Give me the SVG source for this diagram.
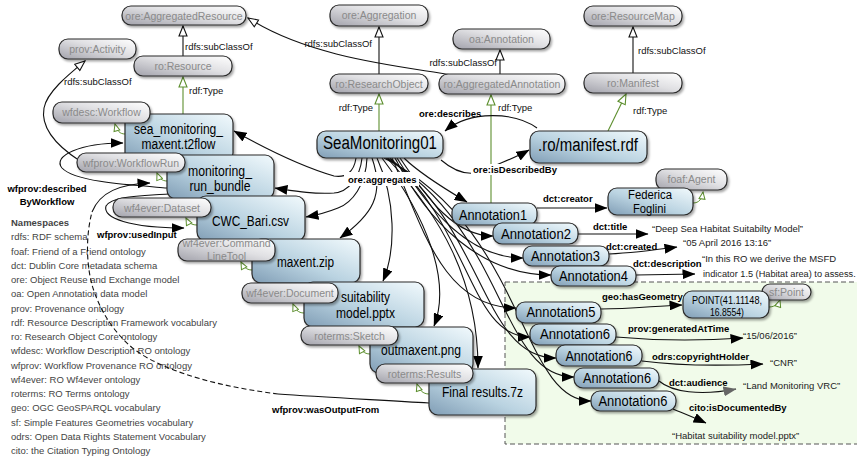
<svg xmlns="http://www.w3.org/2000/svg" width="857" height="457" viewBox="0 0 857 457">
<defs>
<linearGradient id="gBlue" x1="0" y1="1" x2="1" y2="0">
<stop offset="0" stop-color="#809db5"/>
<stop offset="0.45" stop-color="#bad3e1"/>
<stop offset="1" stop-color="#f2fafd"/>
</linearGradient>
<linearGradient id="gGray" x1="0" y1="1" x2="1" y2="0">
<stop offset="0" stop-color="#a2a2ab"/>
<stop offset="0.55" stop-color="#e0e0e3"/>
<stop offset="1" stop-color="#ffffff"/>
</linearGradient>
<filter id="sh" x="-10%" y="-20%" width="130%" height="170%">
<feDropShadow dx="1.5" dy="2" stdDeviation="1.2" flood-color="#000" flood-opacity="0.35"/>
</filter>
<marker id="fb" viewBox="0 0 13 10" markerWidth="13" markerHeight="10" refX="12.5" refY="5" orient="auto" markerUnits="userSpaceOnUse"><path d="M0,0 L13,5 L0,10 Z" fill="#000"/></marker>
<marker id="fg" viewBox="0 0 13 10" markerWidth="13" markerHeight="10" refX="12.5" refY="5" orient="auto" markerUnits="userSpaceOnUse"><path d="M0,0 L13,5 L0,10 Z" fill="#666"/></marker>
<marker id="hb" viewBox="0 0 12 10" markerWidth="12" markerHeight="10" refX="11" refY="5" orient="auto" markerUnits="userSpaceOnUse"><path d="M1,1 L11,5 L1,9 Z" fill="#fff" stroke="#111" stroke-width="1.1"/></marker>
<marker id="hg" viewBox="0 0 12 10" markerWidth="12" markerHeight="10" refX="11" refY="5" orient="auto" markerUnits="userSpaceOnUse"><path d="M1,1 L11,5 L1,9 Z" fill="#fff" stroke="#5d8f2e" stroke-width="1.1"/></marker>
<marker id="hs" viewBox="0 0 9 8" markerWidth="9" markerHeight="8" refX="8" refY="4" orient="auto" markerUnits="userSpaceOnUse"><path d="M1,1 L8,4 L1,7 Z" fill="#fff" stroke="#5d8f2e" stroke-width="1"/></marker>
</defs>
<style>
.e{fill:none;stroke:#111;stroke-width:1.1}
.fa{marker-end:url(#fb)}
.ha{marker-end:url(#hb)}
.g{fill:none;stroke:#5d8f2e;stroke-width:1.1;marker-end:url(#hg)}
.gs{fill:none;stroke:#5d8f2e;stroke-width:1;marker-end:url(#hs)}
.c rect{fill:url(#gGray);stroke:#2a2a2a;stroke-width:1.2;filter:url(#sh)}
.c text{font-family:"Liberation Sans",Arial,sans-serif;font-size:10.5px;fill:#8a8a8a;text-anchor:middle}
.b rect{fill:url(#gBlue);stroke:#2a2a2a;stroke-width:1.2;filter:url(#sh)}
.b text{font-family:"Liberation Sans",Arial,sans-serif;font-size:14px;fill:#000;text-anchor:middle}
.l{font-family:"Liberation Sans",Arial,sans-serif;font-size:9.5px;fill:#111}
.lb{font-family:"Liberation Sans",Arial,sans-serif;font-size:9.5px;font-weight:bold;fill:#000}
.lit{font-family:"Liberation Sans",Arial,sans-serif;font-size:9.5px;fill:#222}
.leg{font-family:"Liberation Sans",Arial,sans-serif;font-size:9.5px;fill:#444}
</style>
<rect x="0" y="0" width="857" height="457" fill="#fff"/>
<rect id="annotation-box" x="505" y="282" width="400" height="162" fill="#f1fbea" stroke="#555" stroke-width="1" stroke-dasharray="5,3"/>

<g id="legend">
<text class="leg" x="11" y="226" font-weight="bold" fill="#555">Namespaces</text>
<text class="leg" x="11" y="240.25">rdfs: RDF schema</text>
<text class="leg" x="11" y="254.5">foaf: Friend of a Friend ontology</text>
<text class="leg" x="11" y="268.75">dct: Dublin Core metadata schema</text>
<text class="leg" x="11" y="283">ore: Object Reuse and Exchange model</text>
<text class="leg" x="11" y="297.25">oa: Open Annotation data model</text>
<text class="leg" x="11" y="311.5">prov: Provenance ontology</text>
<text class="leg" x="11" y="325.75">rdf: Resource Description Framework vocabulary</text>
<text class="leg" x="11" y="340">ro: Research Object Core ontology</text>
<text class="leg" x="11" y="354.25">wfdesc: Workflow Description RO ontology</text>
<text class="leg" x="11" y="368.5">wfprov: Workflow Provenance RO ontology</text>
<text class="leg" x="11" y="382.75">wf4ever: RO Wf4ever ontology</text>
<text class="leg" x="11" y="397">roterms: RO Terms ontology</text>
<text class="leg" x="11" y="411.25">geo: OGC GeoSPARQL vocabulary</text>
<text class="leg" x="11" y="425.5">sf: Simple Features Geometries vocabulary</text>
<text class="leg" x="11" y="439.75">odrs: Open Data Rights Statement Vocabulary</text>
<text class="leg" x="11" y="454">cito: the Citation Typing Ontology</text>
</g>

<g id="connectors">
<path class="e ha" d="M183,56 L183,26"/>
<path class="e ha" d="M80,161 C60,148 40,130 44,108 C47,92 68,75 85,61"/>
<path class="e ha" d="M379,74 L379,27"/>
<path class="e ha" d="M500,74 L500,50"/>
<path class="e ha" d="M633,73 L633,27"/>
<path class="e ha" d="M452,75 C400,66 310,58 248,18"/>
<path class="g" d="M183,114 L183,77"/>
<path class="g" d="M379,131 L379,94"/>
<path class="g" d="M491,203 L491,95"/>
<path class="g" d="M608,131 L626,94"/>
<path class="gs" d="M125,134 C120,134 117,131 115,124"/>
<path class="gs" d="M167,181 C162,181 159,178 157,173"/>
<path class="gs" d="M197,225 C191,225 188,222 186,218"/>
<path class="gs" d="M252,270 C246,270 243,266 241,262"/>
<path class="gs" d="M304,313 C298,313 295,309 293,304"/>
<path class="gs" d="M370,354 C364,354 361,350 359,346"/>
<path class="gs" d="M429,394 C423,394 419,390 417,384"/>
<path class="gs" d="M693,203 C699,203 702,199 703,192"/>
<path class="gs" d="M769,307 C775,307 779,303 780,300"/>
<path class="e fa" d="M537,128 C515,112 470,110 445,131"/>
<path class="e fa" d="M441,160 C455,172 470,177 485,170 C500,163 515,158 529,150"/>
<path class="e fa" d="M167,188 C130,185 75,182 62,168 C52,156 80,143 123,143"/>
<path class="e fa" d="M168,194 C140,196 112,196 106,206 C102,218 130,228 184,228"/>
<path class="e" d="M429,403 C380,400 320,397 278,394"/>
<path class="e" stroke-dasharray="5,3" d="M278,394 C230,388 170,375 135,350 C110,330 98,305 92,285 C86,262 86,235 92,212"/>
<path class="e fa" d="M92,212 C100,192 120,184 150,183"/>
<path class="e fa" d="M356,158 C354,172 346,178 334,176 C300,166 268,150 234,131"/>
<path class="e fa" d="M362,158 C360,178 348,192 334,193 C310,194 295,191 275,188"/>
<path class="e fa" d="M367,158 C366,185 352,203 338,208 C328,212 318,215 306,217"/>
<path class="e fa" d="M372,158 C385,195 372,215 340,238"/>
<path class="e fa" d="M377,158 C396,200 396,250 383,281"/>
<path class="e fa" d="M382,158 C425,215 452,280 434,326"/>
<path class="e fa" d="M387,158 C440,215 478,280 478,368"/>
<path class="e fa" d="M404,158 C418,172 440,186 467,202"/>
<path class="e fa" d="M400,158 C428,200 455,236 493,236"/>
<path class="e fa" d="M397,158 C430,212 470,258 523,258"/>
<path class="e fa" d="M395,158 C428,222 480,275 551,275"/>
<path class="e fa" d="M392,158 C422,225 442,308 516,308"/>
<path class="e fa" d="M390,158 C470,228 470,337 530,337"/>
<path class="e fa" d="M388,158 C485,228 482,358 556,358"/>
<path class="e fa" d="M386,158 C505,228 500,377 574,377"/>
<path class="e fa" d="M384,158 C525,228 520,401 591,401"/>
<path class="e fa" d="M537,208 L607,208"/>
<path class="e fa" d="M578,234 L648,234"/>
<path class="e fa" d="M609,254 C630,253 655,250 677,247"/>
<path class="e fa" d="M636,275 L695,274"/>
<path class="e fa" d="M601,309 C630,309 655,306 682,305"/>
<path class="e fa" d="M616,337 C660,341 700,341 743,338"/>
<path class="e fa" d="M642,361 C680,366 720,366 763,364"/>
<path class="e" marker-end="url(#fg)" d="M659,381 C672,392 700,396 736,389"/>
<path class="e fa" d="M673,409 C685,414 695,418 706,423"/>
<text class="l" x="185" y="50">rdfs:subClassOf</text>
<text class="l" x="64" y="85">rdfs:subClassOf</text>
<text class="l" x="189" y="94">rdf:Type</text>
<text class="l" x="372" y="47" text-anchor="end">rdfs:subClassOf</text>
<text class="l" x="497" y="66" text-anchor="end">rdfs:subClassOf</text>
<text class="l" x="373" y="111" text-anchor="end">rdf:Type</text>
<text class="l" x="498" y="111">rdf:Type</text>
<text class="l" x="638" y="54">rdfs:subClassOf</text>
<text class="l" x="633" y="114">rdf:Type</text>
<text class="lb" x="419" y="117">ore:describes</text>
<rect x="471" y="164" width="88" height="11" fill="#fff"/>
<text class="lb" x="473" y="173">ore:isDescribedBy</text>
<rect x="344" y="172" width="75" height="14" fill="#fff"/>
<text class="lb" x="348" y="183">ore:aggregates</text>
<text class="lb" x="47" y="192" text-anchor="middle">wfprov:described</text>
<text class="lb" x="47" y="205" text-anchor="middle">ByWorkflow</text>
<text class="lb" x="97" y="238">wfprov:usedInput</text>
<text class="lb" x="272" y="413">wfprov:wasOutputFrom</text>
<text class="lb" x="543" y="202">dct:creator</text>
<text class="lb" x="593" y="230">dct:title</text>
<text class="lb" x="606" y="250">dct:created</text>
<text class="lb" x="633" y="267">dct:description</text>
<text class="lb" x="602" y="300">geo:hasGeometry</text>
<text class="lb" x="628" y="332">prov:generatedAtTime</text>
<text class="lb" x="652" y="360">odrs:copyrightHolder</text>
<text class="lb" x="669" y="386">dct:audience</text>
<text class="lb" x="689" y="411">cito:isDocumentedBy</text>
</g>

<g id="literals">
<text class="lit" x="652" y="232">“Deep Sea Habitat Suitabilty Model”</text>
<text class="lit" x="683" y="246">“05 April 2016 13:16”</text>
<text class="lit" x="702" y="262">“In this RO we derive the MSFD</text>
<text class="lit" x="703" y="277" style="font-size:9.2px">indicator 1.5 (Habitat area) to assess.</text>
<text class="lit" x="743" y="339">“15/06/2016”</text>
<text class="lit" x="770" y="366">“CNR”</text>
<text class="lit" x="743" y="389">“Land Monitoring VRC”</text>
<text class="lit" x="672" y="439">“Habitat suitability model.pptx”</text>
</g>

<g id="n-ore-AggregatedResource" class="c"><rect x="122" y="6" width="124" height="19" rx="9"/><text x="184" y="19.5">ore:AggregatedResource</text></g>
<g id="n-prov-Activity" class="c"><rect x="59" y="39" width="77" height="20" rx="9"/><text x="97.5" y="53">prov:Activity</text></g>
<g id="n-ro-Resource" class="c"><rect x="134" y="56" width="98" height="20" rx="9"/><text x="183" y="70">ro:Resource</text></g>
<g id="n-ore-Aggregation" class="c"><rect x="330" y="5" width="98" height="21" rx="9"/><text x="379" y="19">ore:Aggregation</text></g>
<g id="n-oa-Annotation" class="c"><rect x="453" y="29" width="97" height="20" rx="9"/><text x="501.5" y="43">oa:Annotation</text></g>
<g id="n-ro-ResearchObject" class="c"><rect x="330" y="74" width="98" height="19" rx="9"/><text x="379" y="87.5">ro:ResearchObject</text></g>
<g id="n-ro-AggregatedAnnotation" class="c"><rect x="439" y="74" width="126" height="20" rx="9"/><text x="502" y="88">ro:AggregatedAnnotation</text></g>
<g id="n-ore-ResourceMap" class="c"><rect x="584" y="6" width="98" height="20" rx="9"/><text x="633" y="20">ore:ResourceMap</text></g>
<g id="n-ro-Manifest" class="c"><rect x="584" y="73" width="98" height="20" rx="9"/><text x="633" y="87">ro:Manifest</text></g>

<g id="n-sea-monitoring" class="b"><rect x="125" y="114" width="108" height="48" rx="9"/><text x="178.5" y="134" textLength="89" lengthAdjust="spacingAndGlyphs">sea_monitoring_</text><text x="178.5" y="149" textLength="74" lengthAdjust="spacingAndGlyphs">maxent.t2flow</text></g>
<g id="n-wfdesc-Workflow" class="c"><rect x="53" y="102" width="97" height="21" rx="9"/><text x="101.5" y="116">wfdesc:Workflow</text></g>
<g id="n-monitoring-run-bundle" class="b"><rect x="167" y="155" width="107" height="44" rx="9"/><text x="220" y="176" textLength="64" lengthAdjust="spacingAndGlyphs">monitoring_</text><text x="220" y="191" textLength="61" lengthAdjust="spacingAndGlyphs">run_bundle</text></g>
<g id="n-wfprov-WorkflowRun" class="c"><rect x="77" y="153" width="108" height="19" rx="9"/><text x="131" y="166.5">wfprov:WorkflowRun</text></g>
<g id="n-cwc-bari" class="b"><rect x="197" y="196" width="108" height="45" rx="9"/><text x="250.5" y="226" textLength="77" lengthAdjust="spacingAndGlyphs">CWC_Bari.csv</text></g>
<g id="n-wf4ever-Dataset" class="c"><rect x="113" y="198" width="98" height="19" rx="9"/><text x="162" y="211.5">wf4ever:Dataset</text></g>
<g id="n-maxent-zip" class="b"><rect x="252" y="239" width="108" height="44" rx="9"/><text x="305.5" y="267" textLength="57" lengthAdjust="spacingAndGlyphs">maxent.zip</text></g>
<g id="n-wf4ever-CommandLineTool" class="c"><rect x="178" y="239" width="97" height="22" rx="9"/><text x="226.5" y="247">wf4ever:Command</text><text x="226.5" y="259.5">LineTool</text></g>
<g id="n-suitability" class="b"><rect x="304" y="282" width="120" height="45" rx="9"/><text x="365.5" y="302" textLength="49" lengthAdjust="spacingAndGlyphs">suitability</text><text x="365.5" y="318" textLength="59" lengthAdjust="spacingAndGlyphs">model.pptx</text></g>
<g id="n-wf4ever-Document" class="c"><rect x="242" y="283" width="96" height="20" rx="9"/><text x="290" y="297">wf4ever:Document</text></g>
<g id="n-outmaxent" class="b"><rect x="370" y="327" width="103" height="46" rx="9"/><text x="421" y="355" textLength="80" lengthAdjust="spacingAndGlyphs">outmaxent.png</text></g>
<g id="n-roterms-Sketch" class="c"><rect x="301" y="326" width="97" height="19" rx="9"/><text x="349.5" y="339.5">roterms:Sketch</text></g>
<g id="n-final-results" class="b"><rect x="429" y="369" width="107" height="46" rx="9"/><text x="482.5" y="397" textLength="81" lengthAdjust="spacingAndGlyphs">Final results.7z</text></g>
<g id="n-roterms-Results" class="c"><rect x="376" y="364" width="97" height="19" rx="9"/><text x="424.5" y="377.5">roterms:Results</text></g>

<g id="n-SeaMonitoring01" class="b"><rect x="317" y="131" width="126" height="27" rx="9"/><text x="380" y="149" style="font-size:18px" textLength="114" lengthAdjust="spacingAndGlyphs">SeaMonitoring01</text></g>
<g id="n-manifest" class="b"><rect x="530" y="131" width="117" height="32" rx="9"/><text x="588" y="151" style="font-size:18px" textLength="100" lengthAdjust="spacingAndGlyphs">.ro/manifest.rdf</text></g>

<g id="n-foaf-Agent" class="c"><rect x="656" y="169" width="71" height="21" rx="9"/><text x="691.5" y="183">foaf:Agent</text></g>
<g id="n-federica" class="b"><rect x="608" y="188" width="85" height="27" rx="9"/><text x="650" y="199" style="font-size:12px" textLength="44" lengthAdjust="spacingAndGlyphs">Federica</text><text x="649.5" y="213" style="font-size:12px" textLength="33" lengthAdjust="spacingAndGlyphs">Foglini</text></g>

<g id="n-annotation1" class="b"><rect x="452" y="203" width="85" height="22" rx="9"/><text x="493" y="220" textLength="68" lengthAdjust="spacingAndGlyphs">Annotation1</text></g>
<g id="n-annotation2" class="b"><rect x="493" y="223" width="85" height="21" rx="9"/><text x="536" y="239" textLength="70" lengthAdjust="spacingAndGlyphs">Annotation2</text></g>
<g id="n-annotation3" class="b"><rect x="523" y="246" width="86" height="20" rx="9"/><text x="565.5" y="261" textLength="69" lengthAdjust="spacingAndGlyphs">Annotation3</text></g>
<g id="n-annotation4" class="b"><rect x="551" y="266" width="85" height="20" rx="9"/><text x="593.5" y="281" textLength="69" lengthAdjust="spacingAndGlyphs">Annotation4</text></g>

<g id="n-sf-Point" class="c"><rect x="762" y="284" width="49" height="16" rx="8"/><text x="786.5" y="296">sf:Point</text></g>
<g id="n-point" class="b"><rect x="683" y="291" width="86" height="27" rx="9"/><text x="727" y="304" style="font-size:11px" textLength="70" lengthAdjust="spacingAndGlyphs">POINT(41.11148,</text><text x="727" y="316" style="font-size:11px" textLength="34" lengthAdjust="spacingAndGlyphs">16.8554)</text></g>
<g id="n-annotation5" class="b"><rect x="516" y="302" width="85" height="21" rx="9"/><text x="561" y="317" textLength="69" lengthAdjust="spacingAndGlyphs">Annotation5</text></g>
<g id="n-annotation6a" class="b"><rect x="530" y="324" width="86" height="21" rx="9"/><text x="575" y="339" textLength="70" lengthAdjust="spacingAndGlyphs">Annotation6</text></g>
<g id="n-annotation6b" class="b"><rect x="556" y="345" width="86" height="21" rx="9"/><text x="599" y="361" textLength="67" lengthAdjust="spacingAndGlyphs">Annotation6</text></g>
<g id="n-annotation6c" class="b"><rect x="574" y="368" width="85" height="20" rx="9"/><text x="617" y="383" textLength="68" lengthAdjust="spacingAndGlyphs">Annotation6</text></g>
<g id="n-annotation6d" class="b"><rect x="591" y="391" width="85" height="20" rx="9"/><text x="633" y="406" textLength="69" lengthAdjust="spacingAndGlyphs">Annotation6</text></g>
</svg>
